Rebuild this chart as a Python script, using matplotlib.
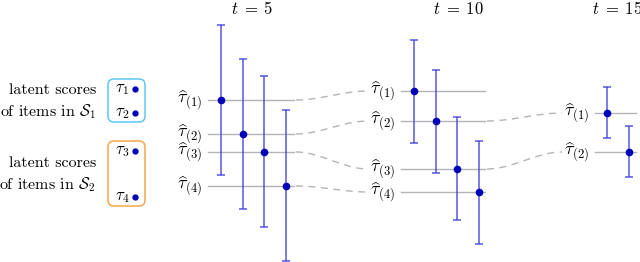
import matplotlib.pyplot as plt
import numpy as np
from matplotlib.patches import FancyBboxPatch

plt.rcParams['mathtext.fontset'] = 'cm'
plt.rcParams['font.family'] = 'cmr10'

# ---------------------------------------------
# Data (vertical positions; axis runs top -> bottom)
# ---------------------------------------------
times = [5, 10, 15]
est = {
    5: [100, 134, 152, 186],
    10: [91, 121, 169, 192],
    15: [113, 152],
}
upper = {
    5: [25, 59, 76, 110],
    10: [40, 70, 117, 141],
    15: [87, 126],
}
lower = {
    5: [175, 209, 227, 261],
    10: [143, 173, 220, 244],
    15: [138, 177],
}
# which ranks at t continue to which rank at next t
links = {
    5: [(0, 0), (1, 1), (2, 2), (3, 3)],
    10: [(1, 0), (2, 1)],
}
latent = [89, 113, 151, 197]
latent_labels = [r'$\tau_1$', r'$\tau_2$', r'$\tau_3$', r'$\tau_4$']

# layout of each panel: (line start, line end, first point x, point spacing, title x)
panels = {
    5: (208, 294, 221, 21.7, 252),
    10: (401, 485, 414, 21.7, 458),
    15: (595, 636, 607, 22, 617),
}

fig = plt.figure(figsize=(6.4, 2.62), dpi=100)
ax = fig.add_axes([0, 0, 1, 1])
ax.set_xlim(0, 640)
ax.set_ylim(262, 0)
ax.axis('off')

pt_color = '#0000b8'
bar_color = '#3a3adc'
line_gray = '#b4b4b4'

for t in times:
    x0, x1, px, dx, tx = panels[t]
    ax.text(tx, 9, rf'$t\;=\;{t}$', ha='center', va='center', fontsize=12)
    for i, y in enumerate(est[t]):
        ax.plot([x0, x1], [y, y], color=line_gray, lw=1.0, zorder=1)
        ax.text(x0 - 5, y, r'$\widehat{\tau}_{(%d)}$' % (i + 1), ha='right',
                va='center', fontsize=13)
        xp = px + i * dx
        ax.errorbar(xp, y, yerr=[[y - upper[t][i]], [lower[t][i] - y]],
                    fmt='none', ecolor=bar_color, elinewidth=1.1, capsize=3,
                    capthick=1.1, alpha=0.85, zorder=2)
        ax.plot(xp, y, 'o', color=pt_color, ms=4.5, zorder=3)

# dashed connectors between panels
for t, pairs in links.items():
    nxt = times[times.index(t) + 1]
    xa = panels[t][1] + 2
    xb = panels[nxt][0] - 33
    for a, b in pairs:
        ya, yb = est[t][a], est[nxt][b]
        s = np.linspace(0, 1, 60)
        xs = xa + (xb - xa) * s
        ys = ya + (yb - ya) * (3 * s ** 2 - 2 * s ** 3)
        ax.plot(xs, ys, color=line_gray, lw=1.0, ls=(0, (5, 4)), zorder=1)

# latent score boxes
boxes = [(76, 125, '#5ec8f2'), (138, 209, '#f7a54a')]
for y0, y1, c in boxes:
    ax.add_patch(FancyBboxPatch((108, y0 + 3), 37, y1 - y0 - 6,
                                boxstyle='round,pad=0,rounding_size=6',
                                fc='none', ec=c, lw=1.1, mutation_aspect=1))
for y, lab in zip(latent, latent_labels):
    ax.text(122, y, lab, ha='center', va='center', fontsize=12)
    ax.plot(135, y, 'o', color=pt_color, ms=3.5)

for (ya, yb), k in zip([(90, 112), (163, 185)], [1, 2]):
    ax.text(96, ya, 'latent scores', ha='right', va='center', fontsize=11.5)
    ax.text(96, yb, r'of items in $\mathcal{S}_%d$' % k, ha='right', va='center',
            fontsize=11.5)

fig.savefig('out.png', dpi=100)
